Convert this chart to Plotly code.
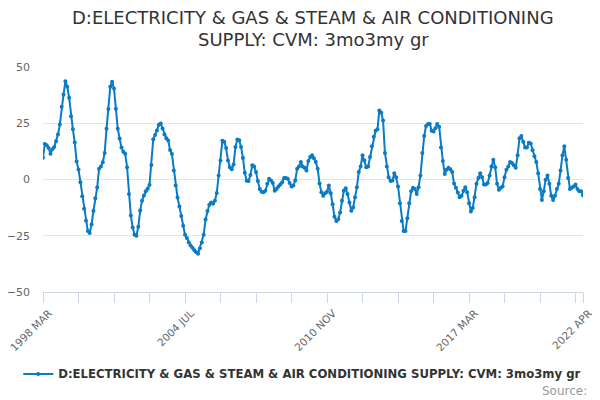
"""ONS-style line chart: electricity & gas supply, 3mo3my growth."""

import pandas as pd
import plotly.graph_objects as go

# Monthly categories, 1998 MAR .. 2022 APR
months = [p.strftime("%Y %b").upper()
          for p in pd.period_range("1998-03", "2022-04", freq="M")]

# 3mo3my growth (%), 12 values per row starting 1998 MAR
growth = [
    9.7, 15.8, 15.2, 14.0, 11.5, 13.4, 14.4, 17.0, 20.0, 24.4, 32.3, 37.8,
    43.7, 41.2, 36.3, 28.1, 22.3, 16.4, 8.0, 4.5, -1.2, -7.4, -13.0, -18.3,
    -22.9, -23.8, -20.0, -14.0, -8.3, -3.6, 4.8, 5.8, 7.7, 11.8, 22.6, 31.3,
    41.2, 43.5, 40.5, 31.5, 22.6, 18.2, 14.2, 12.3, 11.4, 5.5, -6.4, -16.0,
    -21.3, -24.6, -25.0, -21.0, -13.8, -9.4, -7.1, -5.2, -4.1, -2.4, 6.5, 17.9,
    19.8, 21.8, 24.3, 24.9, 22.7, 20.0, 18.3, 17.3, 13.1, 11.3, 4.0, -2.7,
    -8.0, -12.0, -16.2, -20.6, -24.5, -26.0, -28.0, -29.3, -30.3, -31.4, -32.3, -33.0,
    -30.5, -28.0, -24.5, -17.8, -14.0, -11.2, -10.2, -10.8, -9.4, -6.0, 1.8, 8.5,
    17.2, 16.8, 14.0, 8.5, 5.5, 4.6, 6.7, 14.5, 17.8, 17.5, 14.5, 9.6,
    3.0, -0.5, -0.7, 2.0, 6.3, 5.8, 3.3, -0.7, -4.2, -5.4, -5.7, -5.0,
    -1.9, 0.3, -0.4, -1.6, -5.0, -4.2, -3.1, -2.2, -1.2, 0.7, 0.7, 0.3,
    -1.6, -3.1, -2.7, -0.4, 4.8, 5.8, 7.8, 5.8, 5.2, 4.0, 8.2, 10.0,
    10.8, 9.5, 7.8, 4.8, -1.8, -5.7, -7.2, -6.1, -5.4, -2.7, -6.1, -11.0,
    -16.6, -18.4, -17.7, -14.7, -9.4, -5.0, -3.9, -6.4, -10.2, -13.9, -12.4, -7.9,
    -3.4, 3.3, 5.8, 10.8, 8.5, 5.5, 5.8, 10.0, 14.8, 19.0, 21.7, 22.3,
    30.7, 29.8, 26.2, 11.8, 5.8, 1.0, -0.7, -0.4, 2.8, 1.0, -3.1, -10.6,
    -18.4, -22.9, -22.9, -17.2, -10.6, -5.2, -3.7, -4.2, -6.4, -3.4, 1.8, 11.8,
    19.3, 23.8, 24.7, 24.7, 21.7, 21.3, 22.8, 24.7, 23.5, 14.2, 8.2, 2.5,
    4.3, 5.2, 4.6, 3.3, -1.8, -3.7, -5.8, -7.9, -7.2, -5.0, -3.4, -5.7,
    -10.6, -14.2, -12.7, -7.9, -1.9, 0.7, 2.8, 1.0, -2.2, -2.2, -1.6, 1.8,
    5.8, 8.8, 5.5, -1.9, -4.6, -3.7, -3.1, 1.0, 4.3, 5.8, 7.8, 7.3,
    6.3, 5.2, 10.8, 18.3, 19.3, 16.8, 14.2, 14.2, 16.3, 16.0, 13.0, 10.3,
    7.8, 2.8, -4.2, -9.1, -5.2, -0.1, 1.8, -1.9, -7.2, -9.1, -7.2, -4.2,
    -1.9, 4.0, 10.8, 14.8, 8.8, 0.7, -4.2, -3.7, -3.1, -2.2, -4.2, -5.2,
    -5.2, -7.0,
]

label_months = ["1998 MAR", "2004 JUL", "2010 NOV", "2017 MAR", "2022 APR"]
y_ticks = [-50, -25, 0, 25, 50]

# tick marks every 19 months plus the last month; only some are labelled
tick_cats = months[::19] + [months[-1]]
tick_text = [m if m in label_months else "" for m in tick_cats]

title_lines = ["D:ELECTRICITY & GAS & STEAM & AIR CONDITIONING",
               "SUPPLY: CVM: 3mo3my gr"]
series_name = "D:ELECTRICITY & GAS & STEAM & AIR CONDITIONING SUPPLY: CVM: 3mo3my gr"
line_color = "#0a7bc4"

fig = go.Figure()
fig.add_trace(go.Scatter(
    x=months, y=growth, mode="lines+markers", name=series_name,
    line=dict(color=line_color, width=2),
    marker=dict(color=line_color, size=4, symbol="circle"),
))

# page body has an 8px margin, so the figure is 592x392 and sits at (8, 8)
annotations = [
    dict(text=title_lines[0], x=0.5, y=1.218, font=dict(size=18, color="#333333")),
    dict(text=title_lines[1], x=0.5, y=1.12, font=dict(size=18, color="#333333")),
]
for a in annotations:
    a.update(xref="paper", yref="paper", xanchor="center", yanchor="middle",
             showarrow=False)
annotations.append(dict(
    text="Source:", xref="paper", yref="paper", x=1.011, y=-0.44,
    xanchor="right", yanchor="middle", showarrow=False,
    font=dict(size=12, color="#999999"),
))

fig.update_layout(
    width=592, height=392,
    margin=dict(l=35, r=17, t=59, b=108, autoexpand=False),
    paper_bgcolor="white", plot_bgcolor="white",
    font=dict(family="DejaVu Sans, sans-serif", color="#333333"),
    showlegend=True,
    legend=dict(
        orientation="h", x=1.006, xanchor="right", y=-0.364, yanchor="middle",
        font=dict(size=11.7, color="#333333", weight="bold"),
        itemwidth=30,
    ),
    annotations=annotations,
)

fig.update_xaxes(
    type="category", range=[0, len(months) - 1], automargin=False,
    tickmode="array", tickvals=tick_cats, ticktext=tick_text,
    tickangle=-45, ticks="outside", ticklen=10, tickcolor="#ccd6eb",
    ticklabelshift=6,
    showline=True, linecolor="#ccd6eb", linewidth=1,
    showgrid=False, zeroline=False,
    tickfont=dict(size=10.5, color="#666666"),
)
fig.update_yaxes(
    range=[-50, 50], tickvals=y_ticks, automargin=False,
    showgrid=True, gridcolor="#e6e6e6", gridwidth=1,
    zeroline=False, showline=False, ticks="", ticklabelstandoff=12,
    tickfont=dict(size=11, color="#666666"),
)

fig.write_html("out.html")
